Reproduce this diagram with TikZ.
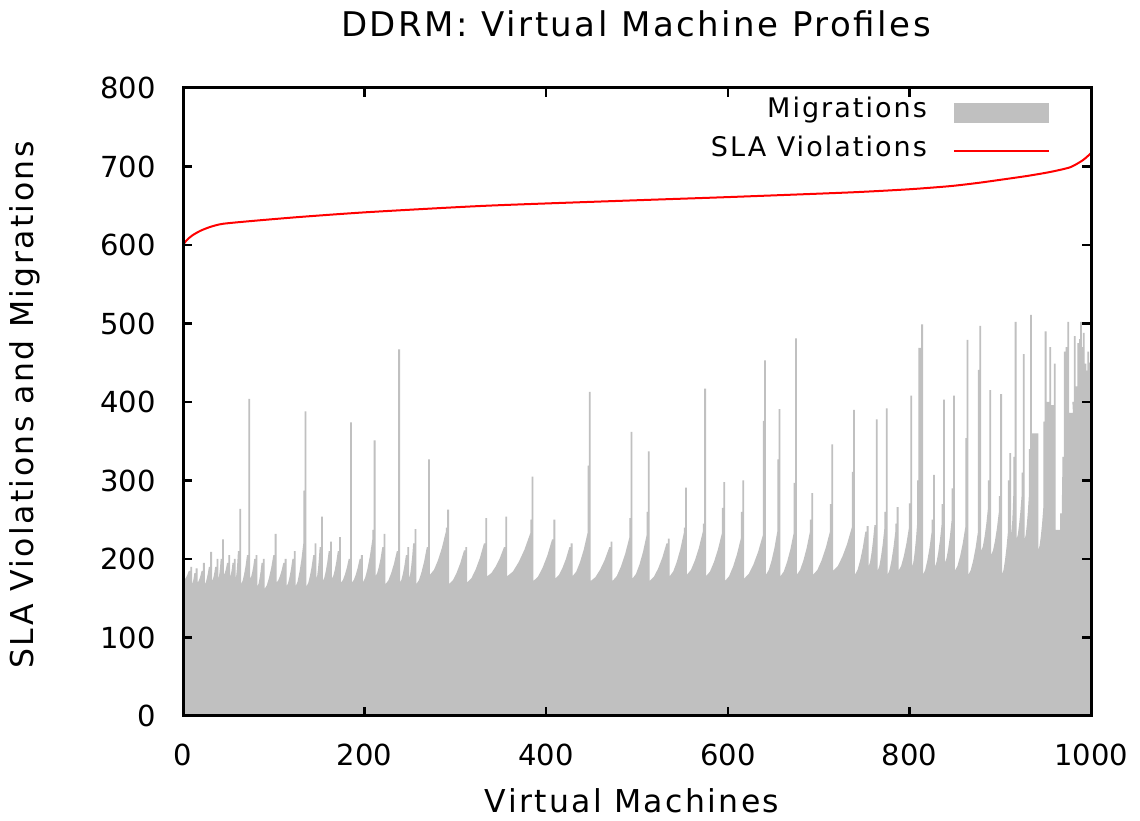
\documentclass[tikz,border=0pt]{standalone}
\usepackage{fontspec}
\setmainfont{DejaVu Sans}
\newfontfamily\widefont[LetterSpace=7.5]{DejaVu Sans}
\definecolor{migfill}{RGB}{192,192,192}
\definecolor{slared}{RGB}{255,0,0}
\tikzset{
  frameline/.style={line width=3pt, black},
  tickline/.style={line width=2.5pt, black},
  ticklabel/.style={font=\fontsize{29}{34}\selectfont, inner sep=0pt},
  axislabel/.style={font=\widefont\fontsize{31.5}{38}\selectfont, inner sep=0pt},
  keylabel/.style={font=\widefont\fontsize{27}{32}\selectfont, inner sep=0pt, anchor=base east},
  slaline/.style={slared, line width=2pt, line join=round},
}
\begin{document}
\begin{tikzpicture}
\useasboundingbox (0,0) rectangle (1140pt,821pt);
\fill[white] (0,0) rectangle (1140pt,821pt);

% title
\node[font=\widefont\fontsize{34}{40}\selectfont, inner sep=0pt, anchor=base]
  (title) at (636pt,784pt) {DDRM: Virtual Machine Profiles};

\begin{scope}[shift={(183pt,105pt)}, x=0.908pt, y=0.785pt]
  % migrations per virtual machine: each run climbs from a valley (b),
  % a narrow bar (p) stands before the spike (v) at machine s
  \fill[migfill] (0,0)
    \foreach \s/\v/\p/\b [remember=\s as \ls (initially -2),
                          evaluate=\p as \r using {min(\p,\b+55)}] in {
      8/190/185/172, 14/188/182/168, 22/195/185/170, 30/209/190/168,
      37/200/190/172, 43/225/200/175, 50/205/195/180, 56/200/195/178,
      62/264/210/175, 72/404/205/168, 80/205/200/175, 88/200/195/165,
      101/232/205/162, 112/200/195/170, 122/210/200/165, 134/388/287/165,
      145/220/205/165, 152/254/215/175, 162/222/210/172, 172/228/210/175,
      184/374/200/170, 196/205/200/170, 210/351/237/170, 221/232/215/178,
      237/467/210/168, 247/215/205/170, 255/238/220/175, 270/327/215/168,
      291/263/240/180, 311/215/211/168, 333/252/220/170, 355/254/215/178,
      384/305/250/178, 408/250/225/172, 427/220/215/175, 447/413/319/178,
      471/222/215/172, 493/362/252/172, 512/337/260/175, 534/226/220/172,
      553/291/240/178, 574/417/245/180, 595/298/265/178, 616/300/260/172,
      640/453/376/175, 656/391/327/180, 674/481/297/178, 692/284/250/180,
      714/346/270/180, 738/390/311/185, 753/242/235/180, 763/378/243/190,
      774/392/260/185, 786/266/245/180, 801/408/271/185, 810/469/300/190,
      813/499/469/469, 826/307/250/180, 837/403/270/190, 848/408/290/195,
      863/479/354/185, 877/497/441/180, 888/415/300/210, 900/410/280/205,
      910/335/300/180, 916/502/330/230, 925/461/310/225, 933/511/340/225,
      940/360/360/360, 949/490/375/211, 954/470/400/400, 959/449/396/396,
      966/258/237/237, 970/464/330/280, 974/502/470/470, 978/386/386/386,
      981/484/400/390, 985/475/420/420, 988/502/480/480, 991/488/470/470,
      993/449/449/449, 996/464/440/440, 998/450/450/440}
    { -- ({\ls+2},\b)
      -- ({\ls+2+0.25*(\s-(\ls)-3.5)},{\b+0.11*(\r-\b)})
      -- ({\ls+2+0.50*(\s-(\ls)-3.5)},{\b+0.33*(\r-\b)})
      -- ({\ls+2+0.75*(\s-(\ls)-3.5)},{\b+0.62*(\r-\b)})
      -- ({\s-1.5},\r) -- ({\s-1.5},\p) -- (\s,\p) -- (\s,\v) -- ({\s+2},\v) }
    -- (1000,0) -- cycle;

  % SLA violations
  \draw[slaline] plot[smooth, tension=0.4] coordinates {
    (0,600) (4,606) (10,612) (19,618) (30,623) (44,627) (80,631)
    (132,636) (206,642) (334,650) (500,657) (600,661) (735,667)
    (800,671) (845,675) (875,679) (900,683) (930,688) (955,693)
    (977,699) (991,708) (1000,717)};

  % frame and mirrored ticks
  \draw[frameline] (0,0) rectangle (1000,800);
  \foreach \yv in {100,200,...,700} {
    \draw[tickline] (0,\yv) -- ++(9pt,0);
    \draw[tickline] (1000,\yv) -- ++(-9pt,0);
  }
  \foreach \xv in {200,400,...,800} {
    \draw[tickline] (\xv,0) -- ++(0,9pt);
    \draw[tickline] (\xv,800) -- ++(0,-9pt);
  }
  \foreach \yv in {0,100,...,800}
    \node[ticklabel, anchor=east] (ylab\yv) at ([xshift=-27pt]0,\yv) {\yv};
  \foreach \xv in {0,200,...,1000}
    \node[ticklabel] (xlab\xv) at ([yshift=-39pt]\xv,0) {\xv};
\end{scope}

% axis titles
\node[axislabel, anchor=base] (xtitle) at (632pt,8pt) {Virtual Machines};
\node[axislabel, anchor=base, rotate=90] (ytitle) at (33pt,416pt) {SLA Violations and Migrations};

% key
\node[keylabel] (keymig) at (927pt,703pt) {Migrations};
\node[keylabel] (keysla) at (927pt,664pt) {SLA Violations};
\fill[migfill] (954pt,698pt) rectangle (1049pt,718pt);
\coordinate (slakeyA) at (954pt,670pt);
\coordinate (slakeyB) at (1049pt,670pt);
\draw[slaline] (slakeyA) -- (slakeyB);
\end{tikzpicture}
\end{document}
